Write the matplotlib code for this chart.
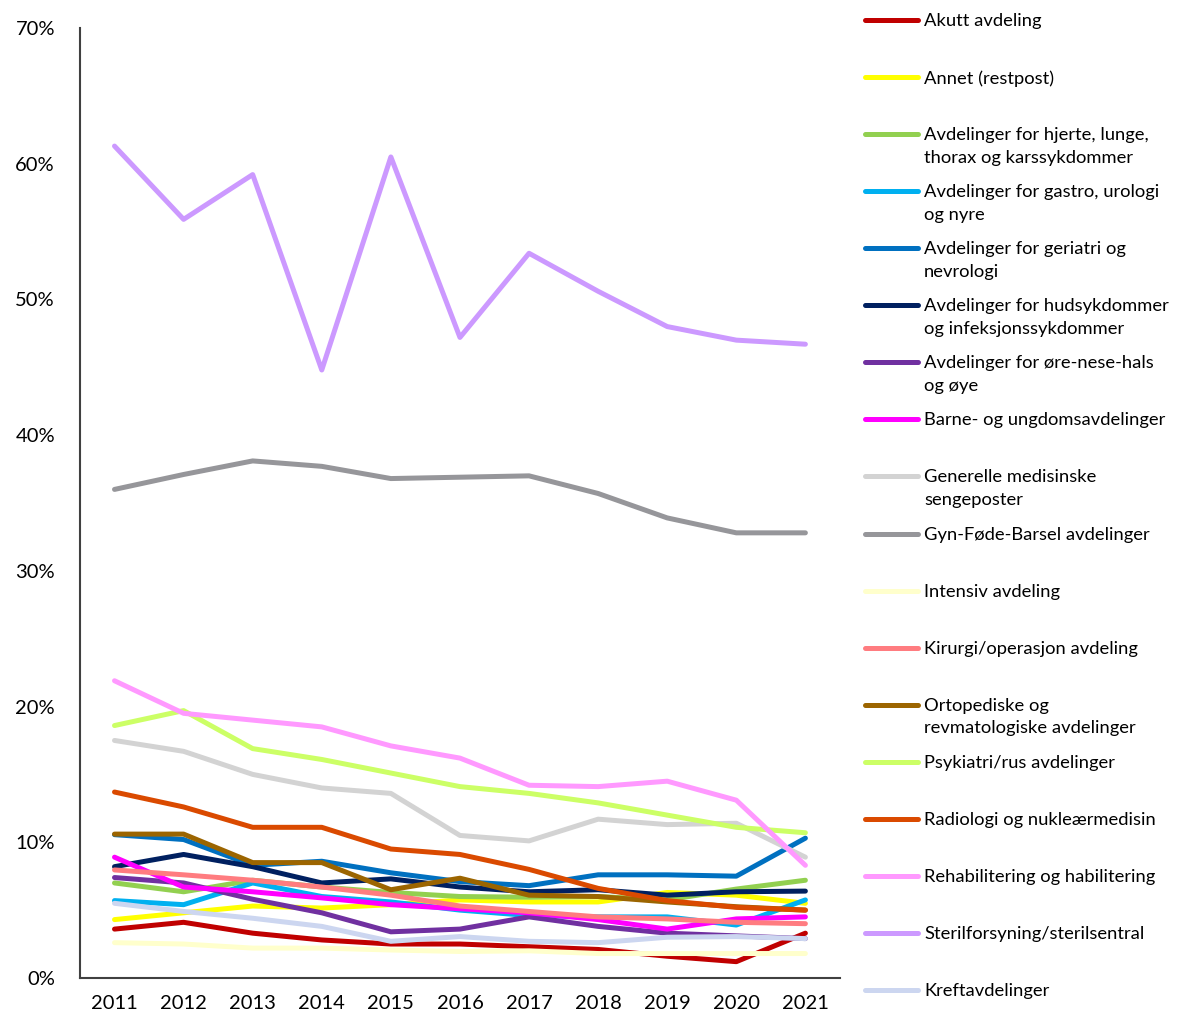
import matplotlib
matplotlib.use("Agg")
import matplotlib.pyplot as plt
from matplotlib.lines import Line2D
from matplotlib.ticker import FuncFormatter

plt.rcParams["font.family"] = ["Lato", "DejaVu Sans"]

years = [2011, 2012, 2013, 2014, 2015, 2016, 2017, 2018, 2019, 2020, 2021]

labels = [
    "Akutt avdeling",
    "Annet (restpost)",
    "Avdelinger for hjerte, lunge,\nthorax og karssykdommer",
    "Avdelinger for gastro, urologi\nog nyre",
    "Avdelinger for geriatri og\nnevrologi",
    "Avdelinger for hudsykdommer\nog infeksjonssykdommer",
    "Avdelinger for øre-nese-hals\nog øye",
    "Barne- og ungdomsavdelinger",
    "Generelle medisinske\nsengeposter",
    "Gyn-Føde-Barsel avdelinger",
    "Intensiv avdeling",
    "Kirurgi/operasjon avdeling",
    "Ortopediske og\nrevmatologiske avdelinger",
    "Psykiatri/rus avdelinger",
    "Radiologi og nukleærmedisin",
    "Rehabilitering og habilitering",
    "Sterilforsyning/sterilsentral",
    "Kreftavdelinger",
]

colors = [
    "#C00000", "#FFFF00", "#92D050", "#00B0F0", "#0070C0", "#002060",
    "#7030A0", "#FF00FF", "#D3D3D3", "#96969A", "#FFFFCC", "#FF7C80",
    "#9C6500", "#CCFF66", "#DA4A00", "#FF99FF", "#CC99FF", "#CCD6F0",
]

# percent values per series, 2011-2021
akutt = [3.6, 4.1, 3.3, 2.8, 2.5, 2.5, 2.3, 2.1, 1.6, 1.2, 3.3]
annet = [4.3, 4.8, 5.3, 5.15, 5.4, 5.75, 5.6, 5.6, 6.3, 6.1, 5.5]
hjerte = [7.0, 6.35, 7.2, 6.7, 6.3, 6.0, 5.95, 6.0, 5.75, 6.55, 7.2]
gastro = [5.7, 5.4, 7.0, 6.0, 5.6, 5.0, 4.6, 4.5, 4.5, 3.9, 5.75]
geriatri = [10.56, 10.2, 8.3, 8.6, 7.75, 7.1, 6.8, 7.6, 7.6, 7.5, 10.3]
hud = [8.2, 9.1, 8.2, 7.0, 7.3, 6.7, 6.35, 6.5, 6.1, 6.35, 6.4]
ore = [7.4, 7.0, 5.8, 4.8, 3.4, 3.6, 4.5, 3.8, 3.3, 3.1, 2.9]
barne = [8.9, 6.7, 6.35, 5.9, 5.4, 5.1, 4.8, 4.3, 3.6, 4.35, 4.5]
generelle = [17.5, 16.7, 15.0, 14.0, 13.6, 10.5, 10.1, 11.7, 11.3, 11.4, 8.9]
gyn = [36.0, 37.1, 38.1, 37.7, 36.8, 36.9, 37.0, 35.7, 33.9, 32.8, 32.8]
intensiv = [2.6, 2.5, 2.2, 2.2, 2.06, 1.95, 2.0, 1.8, 1.8, 1.8, 1.8]
kirurgi = [7.96, 7.6, 7.2, 6.7, 6.1, 5.3, 4.9, 4.5, 4.35, 4.1, 4.0]
ortoped = [10.6, 10.6, 8.5, 8.5, 6.5, 7.35, 6.1, 6.0, 5.6, 5.25, 5.0]
psyk = [18.6, 19.7, 16.9, 16.1, 15.1, 14.1, 13.6, 12.9, 12.0, 11.1, 10.7]
radio = [13.7, 12.6, 11.1, 11.1, 9.5, 9.1, 8.0, 6.6, 5.7, 5.2, 5.0]
rehab = [21.9, 19.5, 19.0, 18.5, 17.1, 16.2, 14.2, 14.1, 14.5, 13.1, 8.3]
steril = [61.3, 55.9, 59.2, 44.8, 60.5, 47.2, 53.4, 50.6, 48.0, 47.0, 46.7]
kreft = [5.5, 4.9, 4.4, 3.8, 2.7, 3.05, 2.7, 2.6, 3.0, 3.05, 2.9]

series = [akutt, annet, hjerte, gastro, geriatri, hud, ore, barne, generelle,
          gyn, intensiv, kirurgi, ortoped, psyk, radio, rehab, steril, kreft]

fig = plt.figure(figsize=(11.83, 10.15), dpi=100)
ax = fig.add_axes([0.0676, 0.0365, 0.6424, 0.9359])

for vals, c in zip(series, colors):
    ax.plot(years, vals, color=c, linewidth=3.6, solid_capstyle="round",
            solid_joinstyle="round")

ax.set_xlim(2010.5, 2021.5)
ax.set_ylim(0, 70)
ax.set_xticks(years)
ax.set_yticks(range(0, 71, 10))
ax.yaxis.set_major_formatter(FuncFormatter(lambda v, p: f"{int(v)}%"))
ax.tick_params(length=0, labelsize=14.5, colors="#000000")
ax.tick_params(axis="x", pad=12)
ax.tick_params(axis="y", pad=18)
for s in ["top", "right"]:
    ax.spines[s].set_visible(False)
for s in ["left", "bottom"]:
    ax.spines[s].set_color("#404040")
    ax.spines[s].set_linewidth(1.5)

# legend drawn by hand in pixel slots
H = 1015.0
for i, (lab, c) in enumerate(zip(labels, colors)):
    y = 20 + i * 57.06
    fig.add_artist(Line2D([865 / 1183, 918 / 1183], [1 - y / H, 1 - y / H],
                          color=c, linewidth=3.6, solid_capstyle="round"))
    fig.text(924 / 1183, 1 - (y - 7) / H, lab, fontsize=13.2, va="top",
             ha="left", linespacing=1.5)

fig.savefig("out.png", dpi=100)
